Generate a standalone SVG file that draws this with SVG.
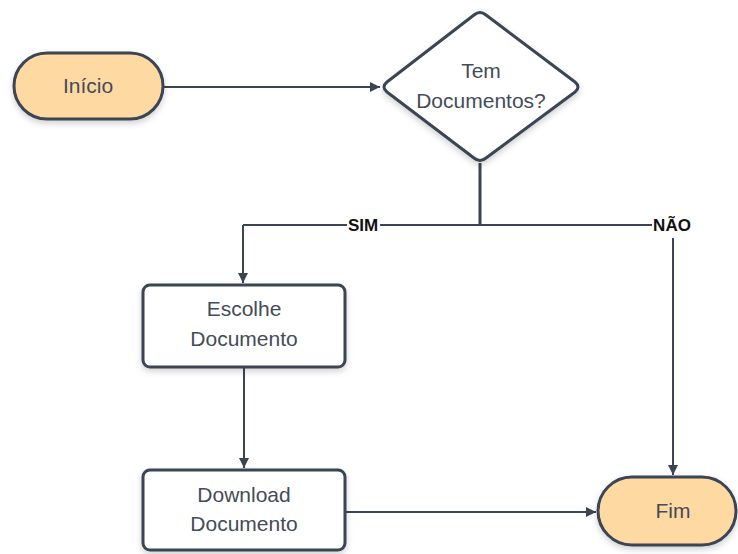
<svg xmlns="http://www.w3.org/2000/svg" width="738" height="554" viewBox="0 0 738 554">
<defs>
<marker id="arr" viewBox="0 0 10 10" refX="10" refY="5" markerWidth="10" markerHeight="10" markerUnits="userSpaceOnUse" orient="auto">
<path d="M0,0 L10,5 L0,10 z" fill="#3d4451"/>
</marker>
<filter id="sh" x="-20%" y="-20%" width="140%" height="150%">
<feDropShadow dx="0" dy="3" stdDeviation="3" flood-color="#000" flood-opacity="0.18"/>
</filter>
<style>
.term{fill:#fed9a2;stroke:#3a4453;stroke-width:3;filter:url(#sh)}
.proc{fill:#ffffff;stroke:#3a4453;stroke-width:3;filter:url(#sh)}
.t{font-family:"Liberation Sans",Arial,sans-serif;font-size:21px;fill:#444c58;text-anchor:middle;dominant-baseline:central}
.lbl{font-family:"Liberation Sans",Arial,sans-serif;font-size:17px;font-weight:bold;fill:#111;text-anchor:middle;dominant-baseline:central}
.c{fill:none;stroke:#3d4451;stroke-width:2}
.cb{fill:none;stroke:#3d4451;stroke-width:3}
</style>
</defs>
<rect width="738" height="554" fill="#ffffff"/>
<g id="connectors">
<path class="c" d="M163,87 L380,87" marker-end="url(#arr)"/>
<path class="cb" d="M480,163 L480,225"/>
<path class="c" d="M243,225 L347,225 M380,225 L652,225"/>
<path class="c" d="M243,225 L243,283" marker-end="url(#arr)"/>
<path class="c" d="M673,238 L673,475" marker-end="url(#arr)"/>
<path class="c" d="M244,367 L244,468" marker-end="url(#arr)"/>
<path class="c" d="M345,512 L596,512" marker-end="url(#arr)"/>
<text class="lbl" x="363" y="225">SIM</text>
<text class="lbl" x="672" y="225">NÃO</text>
</g>
<g id="inicio">
<rect class="term" x="14" y="53" width="149" height="66" rx="33"/>
<text class="t" x="88" y="85">Início</text>
</g>
<g id="decisao">
<path class="proc" d="M474,15 Q480,10 486,15 L575,82 Q581,87 575,92 L486,158 Q480,163 474,158 L387,92 Q381,87 387,82 Z" stroke-linejoin="round"/>
<text class="t" x="481" y="70">Tem</text>
<text class="t" x="481" y="100">Documentos?</text>
</g>
<g id="escolhe">
<rect class="proc" x="143" y="285" width="202" height="82" rx="7"/>
<text class="t" x="244" y="308">Escolhe</text>
<text class="t" x="244" y="338">Documento</text>
</g>
<g id="download">
<rect class="proc" x="143" y="470" width="202" height="80" rx="7"/>
<text class="t" x="244" y="494">Download</text>
<text class="t" x="244" y="523">Documento</text>
</g>
<g id="fim">
<rect class="term" x="598" y="477" width="138" height="68" rx="34"/>
<text class="t" x="673" y="510">Fim</text>
</g>
</svg>
